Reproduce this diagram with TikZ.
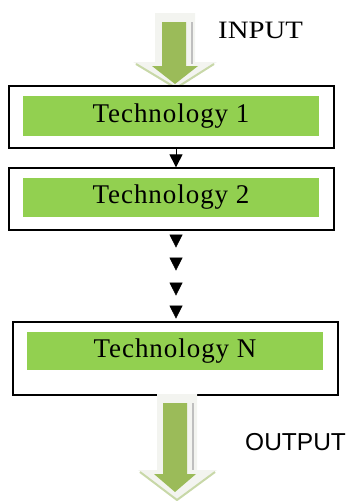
\documentclass[tikz,border=0pt]{standalone}
\usepackage{fontspec}
\setmainfont{Liberation Serif}
\newfontfamily\labelsans{Liberation Sans}
\newfontfamily\stagefont[LetterSpace=3.5]{Liberation Serif}
\newfontfamily\widefont[FakeStretch=1.15]{Liberation Serif}
\usetikzlibrary{arrows.meta,decorations.markings,calc}

\definecolor{boxgreen}{HTML}{92D050}
\definecolor{arrowgreen}{HTML}{9BBB59}
\definecolor{arrowpale}{HTML}{F3F4F0}
\definecolor{arrowedge}{HTML}{C8D8A8}

\tikzset{
  outerbox/.style={draw=black, line width=1.3pt, fill=white, minimum width=325pt, inner sep=0pt},
  techbox/.style={fill=boxgreen, minimum width=296pt, inner sep=0pt, font=\stagefont\fontsize{27}{30}\selectfont},
  smalltip/.style={-{Triangle[width=13pt,length=13pt]}, line width=1pt},
  palearrow/.style={fill=arrowpale},
  greenarrow/.style={fill=arrowgreen},
  headedge/.style={draw=arrowedge, line width=2pt, line join=round},
  sidestripe/.style={draw=black!25, line width=1.5pt},
}

\begin{document}
\begin{tikzpicture}[x=1pt,y=-1pt]
\useasboundingbox (0,0) rectangle (351,501);

% common vertical axis of the flow arrows
\coordinate (axis) at (176,0);

% input block arrow
\path[palearrow] (155,13) -- (195,13) -- (195,62) -- (217,62) -- (176,90) -- (133,62) -- (155,62) -- cycle;
\path[headedge] (136,64) -- (176,88) -- (214,64);
\path[sidestripe] (192,22) -- (192,64);
\path[greenarrow] (162,22) -- (186,22) -- (186,66) -- (198,66) -- (175,84) -- (152,66) -- (162,66) -- cycle;
\node[anchor=base west, font=\widefont\fontsize{25}{28}\selectfont, inner sep=0pt] (inlabel) at (218,38) {INPUT};

% technology stages
\node[outerbox, minimum height=62pt] (b1) at (171.5,117) {};
\node[techbox, minimum height=40pt] (t1) at (171,116) {Technology 1};

\node[outerbox, minimum height=62pt] (b2) at (171.5,199) {};
\node[techbox, minimum height=39pt] (t2) at (171,197.5) {Technology 2};

\node[outerbox, minimum height=73pt] (bN) at (175.5,358.5) {};
\node[techbox, minimum height=38pt] (tN) at (175,351) {Technology N};

% stage to stage connectors
\draw[smalltip] (b1.south -| axis) -- (b2.north -| axis);
\path[decoration={markings,
    mark=at position 17pt with {\arrow{Triangle[width=13pt,length=13pt]}},
    mark=at position 40pt with {\arrow{Triangle[width=13pt,length=13pt]}},
    mark=at position 65pt with {\arrow{Triangle[width=13pt,length=13pt]}},
    mark=at position 88pt with {\arrow{Triangle[width=13pt,length=13pt]}}},
  decorate] (b2.south -| axis) -- (bN.north -| axis);

% output block arrow
\path[palearrow] (157,394) -- (197,394) -- (197,470) -- (217,470) -- (177,501) -- (138,470) -- (157,470) -- cycle;
\path[headedge] (140,472) -- (177,500) -- (215,472);
\path[sidestripe] (193,403) -- (193,470);
\path[greenarrow] (163,403) -- (187,403) -- (187,474) -- (196,474) -- (175,492) -- (154,474) -- (163,474) -- cycle;
\node[anchor=base west, font=\labelsans\fontsize{24.5}{27}\selectfont, inner sep=0pt] (outlabel) at (245,450) {OUTPUT};
\end{tikzpicture}
\end{document}
